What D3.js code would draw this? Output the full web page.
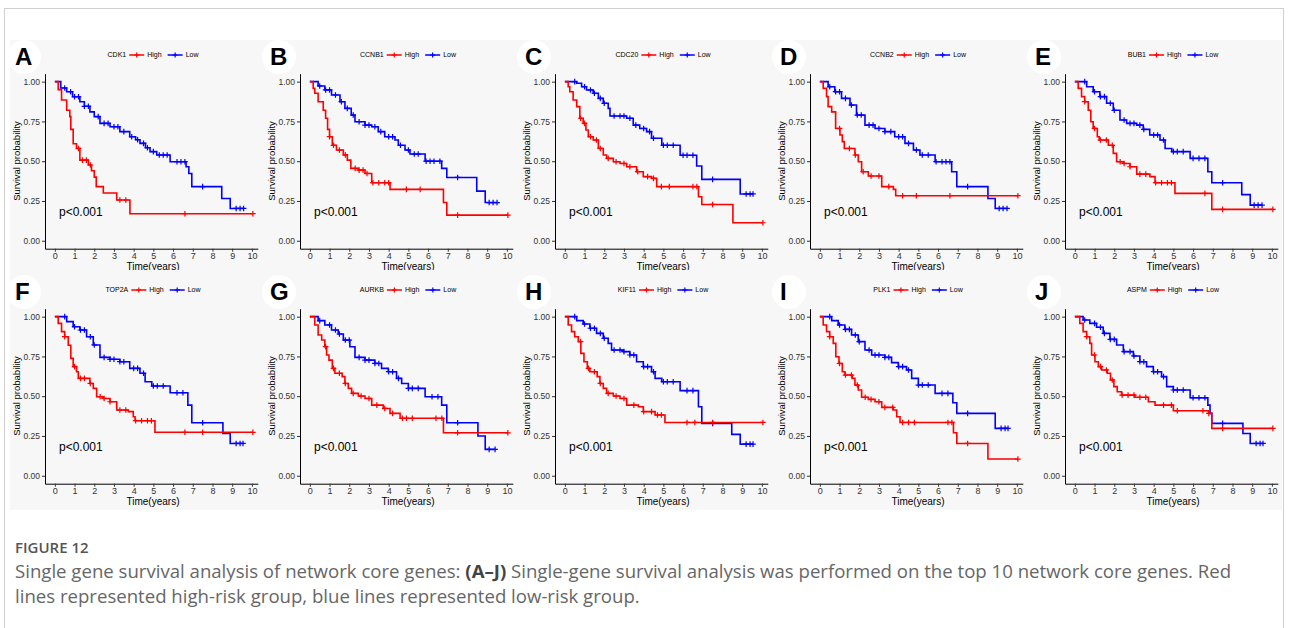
<!DOCTYPE html>
<html>
<head>
<meta charset="utf-8">
<script src="https://cdn.jsdelivr.net/npm/d3@7"></script>
<style>
  body { margin: 0; background: #fff; }
  svg { display: block; }
  .plot text { font-family: "Liberation Sans", Arial, sans-serif; }
  .caption text { font-family: "Open Sans", sans-serif; }
</style>
</head>
<body>
<svg id="fig" width="1290" height="628"></svg>
<script>
// Kaplan-Meier step data: [time (years), survival]
const genes = ["CDK1", "CCNB1", "CDC20", "CCNB2", "BUB1", "TOP2A", "AURKB", "KIF11", "PLK1", "ASPM"];
const letters = ["A", "B", "C", "D", "E", "F", "G", "H", "I", "J"];
const xTicks = [0, 1, 2, 3, 4, 5, 6, 7, 8, 9, 10];
const yTicks = [0, 0.25, 0.5, 0.75, 1];
const pLabel = "p<0.001";

const CDK1_high = [[0,1],[0.17,0.95],[0.34,0.885],[0.6,0.82],[0.76,0.78],[0.81,0.70],[0.93,0.61],[1.1,0.58],[1.27,0.507],[1.7,0.476],[1.86,0.44],[2.0,0.40],[2.1,0.34],[2.46,0.30],[3.14,0.256],[3.81,0.17]];
const CDK1_highCens = [1.2,1.4,1.6,1.8,3.3,3.6,6.6,10.05];
const CDK1_low = [[0,1],[0.3,0.96],[0.6,0.937],[0.9,0.905],[1.27,0.874],[1.5,0.845],[1.78,0.81],[2.0,0.78],[2.29,0.738],[2.8,0.717],[3.3,0.686],[3.8,0.654],[4.1,0.635],[4.32,0.612],[4.6,0.585],[4.83,0.56],[5.17,0.539],[5.85,0.497],[6.66,0.465],[6.8,0.423],[6.95,0.34],[8.47,0.266],[8.9,0.203]];
const CDK1_lowCens = [0.5,0.8,1.0,1.2,1.5,1.7,2.2,2.5,2.7,3.0,3.2,3.5,3.9,4.2,4.5,4.7,5.0,5.3,5.5,5.7,6.2,6.4,6.6,7.5,9.2,9.4,9.58];

const CCNB1_high = [[0,1],[0.17,0.958],[0.25,0.927],[0.42,0.874],[0.68,0.82],[0.8,0.77],[0.9,0.70],[1.0,0.654],[1.14,0.60],[1.35,0.57],[1.7,0.54],[1.9,0.507],[2.08,0.455],[2.46,0.444],[2.8,0.423],[3.14,0.365],[4.07,0.323],[6.78,0.24],[6.95,0.161]];
const CCNB1_highCens = [1.0,1.2,1.5,1.8,2.3,2.5,2.7,2.9,3.2,3.5,3.8,4.0,4.9,5.6,7.5,10.05];
const CCNB1_low = [[0,1],[0.42,0.973],[0.76,0.948],[1.1,0.916],[1.53,0.874],[1.78,0.832],[2.1,0.79],[2.29,0.748],[2.8,0.727],[3.14,0.717],[3.47,0.686],[3.8,0.654],[4.32,0.633],[4.49,0.60],[4.83,0.57],[5.08,0.545],[5.85,0.50],[6.69,0.455],[6.95,0.398],[8.47,0.312],[8.9,0.24]];
const CCNB1_lowCens = [0.5,0.8,1.0,1.3,1.6,1.9,2.2,2.5,2.8,3.0,3.3,3.6,4.0,4.2,4.6,5.0,5.3,5.5,5.9,6.1,6.3,6.6,7.5,9.1,9.3,9.5];

const CDC20_high = [[0,1],[0.17,0.968],[0.25,0.937],[0.42,0.885],[0.6,0.843],[0.76,0.77],[0.93,0.738],[1.07,0.696],[1.19,0.654],[1.44,0.633],[1.7,0.58],[1.95,0.539],[2.12,0.518],[2.46,0.497],[2.8,0.486],[3.14,0.465],[3.64,0.434],[3.98,0.403],[4.4,0.392],[4.66,0.34],[6.78,0.277],[6.95,0.228],[8.53,0.113]];
const CDC20_highCens = [0.8,1.0,1.3,1.6,1.8,2.2,2.6,3.0,3.3,3.7,4.2,4.5,4.9,5.3,6.5,6.7,7.5,10.05];
const CDC20_low = [[0,1],[0.6,0.99],[0.85,0.968],[1.1,0.948],[1.44,0.927],[1.7,0.895],[1.95,0.864],[2.2,0.832],[2.29,0.784],[3.14,0.77],[3.47,0.727],[3.8,0.706],[4.15,0.686],[4.4,0.644],[4.92,0.60],[5.85,0.537],[6.69,0.47],[6.95,0.386],[8.9,0.294]];
const CDC20_lowCens = [0.5,1.0,1.3,1.5,1.8,2.0,2.5,2.8,3.0,3.3,3.6,4.0,4.3,4.5,5.0,5.2,5.5,6.0,6.2,6.5,7.5,9.2,9.4,9.55];

const CCNB2_high = [[0,1],[0.17,0.958],[0.34,0.906],[0.42,0.843],[0.6,0.81],[0.8,0.706],[1.02,0.665],[1.14,0.623],[1.24,0.58],[1.78,0.539],[1.95,0.497],[2.12,0.434],[2.46,0.407],[3.14,0.34],[3.73,0.323],[3.85,0.283]];
const CCNB2_highCens = [1.0,1.5,1.8,2.2,2.6,3.0,3.5,4.2,4.9,6.6,10.05];
const CCNB2_low = [[0,1],[0.42,0.968],[0.76,0.937],[1.1,0.895],[1.53,0.853],[1.86,0.79],[2.29,0.727],[2.8,0.706],[3.3,0.686],[3.8,0.654],[4.32,0.612],[4.75,0.57],[5.08,0.539],[5.85,0.497],[6.69,0.434],[6.95,0.34],[8.53,0.266],[8.9,0.203]];
const CCNB2_lowCens = [0.5,0.8,1.0,1.3,1.6,1.9,2.1,2.5,2.7,3.0,3.3,3.6,4.0,4.2,4.5,4.9,5.2,5.5,5.9,6.2,6.4,6.6,7.5,9.1,9.3,9.5];

const BUB1_high = [[0,1],[0.17,0.958],[0.34,0.906],[0.5,0.874],[0.68,0.82],[0.81,0.748],[0.93,0.706],[1.14,0.654],[1.24,0.633],[1.7,0.60],[1.95,0.549],[2.12,0.497],[2.46,0.486],[2.8,0.465],[3.14,0.419],[3.81,0.403],[4.07,0.365],[5.08,0.298],[6.95,0.197]];
const BUB1_highCens = [0.5,1.0,1.3,1.6,1.9,2.3,2.5,2.8,3.3,3.6,4.1,4.4,4.7,4.9,6.6,7.5,10.05];
const BUB1_low = [[0,1],[0.6,0.968],[0.93,0.937],[1.27,0.906],[1.61,0.864],[1.95,0.82],[2.29,0.759],[2.63,0.738],[3.14,0.727],[3.47,0.70],[3.8,0.665],[4.32,0.633],[4.58,0.58],[4.92,0.56],[5.85,0.518],[6.75,0.434],[6.95,0.365],[8.47,0.29],[8.9,0.224]];
const BUB1_lowCens = [0.5,1.0,1.3,1.5,1.8,2.0,2.5,2.8,3.0,3.3,3.5,4.0,4.2,4.5,5.0,5.2,5.5,6.0,6.3,6.6,7.5,9.1,9.3,9.5];

const TOP2A_high = [[0,1],[0.17,0.958],[0.34,0.906],[0.5,0.874],[0.68,0.82],[0.81,0.738],[0.93,0.686],[1.1,0.654],[1.19,0.612],[1.78,0.58],[1.95,0.549],[2.12,0.497],[2.46,0.486],[2.8,0.465],[3.14,0.413],[3.73,0.403],[3.98,0.371],[4.07,0.346],[5.08,0.273]];
const TOP2A_highCens = [0.5,1.0,1.3,1.5,1.8,2.3,2.5,2.8,3.3,3.6,4.1,4.4,4.7,4.9,6.6,7.5,10.05];
const TOP2A_low = [[0,1],[0.6,0.969],[0.93,0.937],[1.27,0.916],[1.61,0.874],[1.95,0.822],[2.29,0.744],[2.8,0.732],[3.3,0.717],[3.8,0.675],[4.32,0.644],[4.58,0.591],[4.92,0.564],[5.85,0.522],[6.75,0.444],[6.95,0.333],[8.53,0.266],[8.9,0.203]];
const TOP2A_lowCens = [0.5,1.0,1.3,1.5,1.8,2.0,2.5,2.8,3.0,3.3,3.5,4.0,4.2,4.5,5.0,5.2,5.5,6.2,6.5,7.5,9.2,9.4,9.55];

const AURKB_high = [[0,1],[0.25,0.948],[0.42,0.885],[0.6,0.853],[0.76,0.811],[0.85,0.759],[0.97,0.727],[1.14,0.675],[1.27,0.644],[1.64,0.623],[1.78,0.58],[1.95,0.549],[2.12,0.518],[2.46,0.501],[2.8,0.486],[3.14,0.444],[3.73,0.423],[4.07,0.392],[4.58,0.361],[6.78,0.27]];
const AURKB_highCens = [0.8,1.2,1.5,1.8,2.2,2.6,3.0,3.4,3.8,4.2,4.7,4.9,5.2,6.4,6.7,7.5,10.05];
const AURKB_low = [[0,1],[0.42,0.975],[0.76,0.948],[1.1,0.916],[1.44,0.891],[1.7,0.853],[2.03,0.811],[2.29,0.744],[2.8,0.727],[3.3,0.706],[3.64,0.675],[3.98,0.654],[4.4,0.612],[4.66,0.58],[5.0,0.549],[5.85,0.497],[6.69,0.444],[6.95,0.333],[8.53,0.25],[8.9,0.166]];
const AURKB_lowCens = [0.5,1.0,1.3,1.5,1.8,2.0,2.5,2.8,3.0,3.3,3.5,4.0,4.2,4.5,5.0,5.2,5.5,6.2,6.5,7.5,9.1,9.4];

const KIF11_high = [[0,1],[0.17,0.948],[0.34,0.906],[0.5,0.874],[0.68,0.843],[0.81,0.769],[0.97,0.717],[1.14,0.675],[1.27,0.654],[1.64,0.623],[1.78,0.58],[1.95,0.549],[2.12,0.518],[2.46,0.501],[2.8,0.486],[3.14,0.444],[3.73,0.434],[3.98,0.403],[4.58,0.382],[5.08,0.335]];
const KIF11_highCens = [0.8,1.2,1.5,1.8,2.2,2.6,3.0,3.5,4.0,4.4,4.7,4.9,6.2,6.6,7.5,10.05];
const KIF11_low = [[0,1],[0.6,0.975],[0.93,0.954],[1.27,0.927],[1.61,0.895],[1.95,0.864],[2.2,0.832],[2.37,0.79],[2.97,0.78],[3.3,0.759],[3.64,0.717],[3.98,0.686],[4.4,0.654],[4.58,0.612],[4.92,0.591],[5.85,0.535],[6.78,0.434],[6.95,0.329],[8.47,0.26],[8.9,0.199]];
const KIF11_lowCens = [0.5,1.0,1.3,1.5,1.8,2.0,2.5,2.8,3.0,3.3,3.5,4.0,4.2,4.5,5.0,5.2,5.5,6.2,6.5,7.5,9.2,9.4,9.55];

const PLK1_high = [[0,1],[0.17,0.948],[0.34,0.906],[0.5,0.874],[0.68,0.832],[0.81,0.748],[0.97,0.706],[1.14,0.654],[1.27,0.633],[1.64,0.612],[1.78,0.57],[1.95,0.539],[2.12,0.493],[2.46,0.48],[2.8,0.465],[3.14,0.43],[3.73,0.413],[3.9,0.371],[4.07,0.335],[6.78,0.27],[6.95,0.203],[8.53,0.105]];
const PLK1_highCens = [0.5,1.0,1.3,1.6,1.9,2.3,2.6,3.0,3.3,3.7,4.2,4.5,4.8,6.5,6.7,7.5,10.05];
const PLK1_low = [[0,1],[0.6,0.975],[0.93,0.948],[1.27,0.92],[1.61,0.885],[1.95,0.843],[2.29,0.79],[2.63,0.759],[3.3,0.744],[3.64,0.711],[3.98,0.686],[4.4,0.665],[4.66,0.612],[5.0,0.57],[5.85,0.518],[6.75,0.459],[6.95,0.392],[8.9,0.298]];
const PLK1_lowCens = [0.5,1.0,1.3,1.5,1.8,2.0,2.5,2.8,3.0,3.3,3.5,4.0,4.2,4.5,5.0,5.2,5.5,6.2,6.5,7.5,9.2,9.4,9.55];

const ASPM_high = [[0,1],[0.25,0.958],[0.42,0.906],[0.6,0.874],[0.76,0.832],[0.85,0.759],[1.02,0.717],[1.19,0.686],[1.36,0.665],[1.64,0.644],[1.81,0.602],[1.98,0.56],[2.15,0.528],[2.37,0.507],[3.05,0.493],[3.73,0.465],[4.07,0.444],[5.0,0.409],[6.78,0.392],[6.95,0.298]];
const ASPM_highCens = [0.6,1.0,1.3,1.6,1.9,2.4,2.7,3.0,3.3,3.6,4.5,4.9,5.2,6.5,6.8,7.5,10.05];
const ASPM_low = [[0,1],[0.42,0.979],[0.76,0.958],[1.1,0.933],[1.44,0.895],[1.78,0.857],[2.12,0.822],[2.46,0.78],[2.97,0.753],[3.3,0.717],[3.64,0.686],[3.98,0.654],[4.4,0.623],[4.66,0.56],[5.0,0.539],[5.85,0.49],[6.75,0.444],[6.86,0.392],[6.95,0.329],[8.53,0.266],[8.9,0.203]];
const ASPM_lowCens = [0.5,1.0,1.3,1.5,1.8,2.0,2.5,2.8,3.0,3.3,3.5,4.0,4.2,4.5,5.0,5.2,5.5,6.0,6.3,6.6,7.5,9.2,9.4,9.55];

const highSets = [CDK1_high, CCNB1_high, CDC20_high, CCNB2_high, BUB1_high, TOP2A_high, AURKB_high, KIF11_high, PLK1_high, ASPM_high];
const highCens = [CDK1_highCens, CCNB1_highCens, CDC20_highCens, CCNB2_highCens, BUB1_highCens, TOP2A_highCens, AURKB_highCens, KIF11_highCens, PLK1_highCens, ASPM_highCens];
const lowSets = [CDK1_low, CCNB1_low, CDC20_low, CCNB2_low, BUB1_low, TOP2A_low, AURKB_low, KIF11_low, PLK1_low, ASPM_low];
const lowCens = [CDK1_lowCens, CCNB1_lowCens, CDC20_lowCens, CCNB2_lowCens, BUB1_lowCens, TOP2A_lowCens, AURKB_lowCens, KIF11_lowCens, PLK1_lowCens, ASPM_lowCens];

const RED = "#ff0000", BLUE = "#0000ff";

const svg = d3.select("#fig");

// outer frame and figure background
svg.append("rect").attr("x", 4.5).attr("y", 8.5).attr("width", 1279).attr("height", 700)
  .attr("fill", "#fff").attr("stroke", "#d0d0d0");
svg.append("rect").attr("x", 10).attr("y", 40).attr("width", 1272).attr("height", 470)
  .attr("fill", "#f7f7f7");

// row 1 panels are cut at the top of row 2
svg.append("clipPath").attr("id", "clipTop")
  .append("rect").attr("x", 0).attr("y", 0).attr("width", 1290).attr("height", 270);

// panel scales (local coordinates)
const x = d3.scaleLinear().domain([-0.5, 10.3]).range([45, 257.8]);
const y = d3.scaleLinear().domain([-0.05, 1.05]).range([248.7, 73.7]);

function survAt(steps, t) {
  let s = steps[0][1];
  steps.forEach(p => { if (p[0] <= t) s = p[1]; });
  return s;
}

const line = d3.line().x(d => x(d[0])).y(d => y(d[1])).curve(d3.curveStepAfter);

function plus(g, cx, cy, color, size) {
  g.append("path")
    .attr("d", `M${cx - size},${cy}H${cx + size}M${cx},${cy - size}V${cy + size}`)
    .attr("stroke", color).attr("stroke-width", 1.2).attr("fill", "none");
}

const plots = svg.append("g").attr("class", "plot");

genes.forEach((gene, i) => {
  const col = i % 5, row = Math.floor(i / 5);
  const outer = plots.append("g");
  if (row === 0) outer.attr("clip-path", "url(#clipTop)");
  const g = outer.append("g").attr("transform", `translate(${col * 255},${row * 235})`);

  // letter badge
  g.append("circle").attr("cx", 24).attr("cy", 57).attr("r", 17).attr("fill", "#fff");
  g.append("text").attr("x", 15).attr("y", 65).attr("font-size", 24).attr("font-weight", "bold")
    .attr("fill", "#000").text(letters[i]);

  // axes
  const yAxis = g.append("g").attr("transform", "translate(45,0)")
    .call(d3.axisLeft(y).tickValues(yTicks).tickFormat(d3.format(".2f")).tickSize(3).tickSizeOuter(0));
  const xAxis = g.append("g").attr("transform", "translate(0,248.7)")
    .call(d3.axisBottom(x).tickValues(xTicks).tickFormat(d3.format("d")).tickSize(3).tickSizeOuter(0));
  [yAxis, xAxis].forEach(a => {
    a.attr("font-family", null);
    a.select(".domain").attr("stroke", "#000").attr("stroke-width", 1);
    a.selectAll(".tick line").attr("stroke", "#333");
    a.selectAll(".tick text").attr("fill", "#333").attr("font-size", 8.5);
  });
  yAxis.selectAll(".tick text").attr("x", -5);
  xAxis.selectAll(".tick text").attr("y", 3.5).attr("font-size", 9);

  g.append("text").attr("x", 153).attr("y", 269.5).attr("text-anchor", "middle")
    .attr("font-size", 10).attr("fill", "#000").text("Time(years)");
  g.append("text").attr("transform", "translate(20,161) rotate(-90)").attr("text-anchor", "middle")
    .attr("font-size", 9.5).attr("fill", "#000").text("Survival probability");

  g.append("text").attr("x", 59).attr("y", 216).attr("font-size", 12).attr("fill", "#000").text(pLabel);

  // curves: low first, high on top
  [[lowSets[i], lowCens[i], BLUE], [highSets[i], highCens[i], RED]].forEach(([steps, cens, color]) => {
    const last = steps[steps.length - 1];
    const endT = Math.max(d3.max(cens), last[0]);
    const pts = steps.concat([[endT, last[1]]]);
    g.append("path").attr("d", line(pts)).attr("fill", "none")
      .attr("stroke", color).attr("stroke-width", 1.6);
    cens.forEach(t => plus(g, x(t), y(survAt(steps, t)), color, 2.8));
  });

  // legend
  const leg = g.append("g").attr("transform", "translate(0,55)");
  const fs = 7;
  const t1 = leg.append("text").attr("font-size", fs).attr("fill", "#000").attr("dy", "0.35em").text(gene);
  const w1 = t1.node().getComputedTextLength();
  const t2 = leg.append("text").attr("font-size", fs).attr("fill", "#000").attr("dy", "0.35em").text("High");
  const w2 = t2.node().getComputedTextLength();
  const t3 = leg.append("text").attr("font-size", fs).attr("fill", "#000").attr("dy", "0.35em").text("Low");
  const w3 = t3.node().getComputedTextLength();
  const key = 15, gap = 3, sep = 6;
  const total = w1 + gap + key + gap + w2 + sep + key + gap + w3;
  let cx = 153 - total / 2;
  t1.attr("x", cx); cx += w1 + gap;
  leg.append("line").attr("x1", cx).attr("x2", cx + key).attr("stroke", RED).attr("stroke-width", 1.5);
  plus(leg, cx + key / 2, 0, RED, 2.6);
  cx += key + gap;
  t2.attr("x", cx); cx += w2 + sep;
  leg.append("line").attr("x1", cx).attr("x2", cx + key).attr("stroke", BLUE).attr("stroke-width", 1.5);
  plus(leg, cx + key / 2, 0, BLUE, 2.6);
  cx += key + gap;
  t3.attr("x", cx);
});

// caption
const cap = svg.append("g").attr("class", "caption");
cap.append("text").attr("x", 15).attr("y", 553).attr("font-size", 15).attr("fill", "#555")
  .attr("font-weight", 600).text("FIGURE 12");
const l1 = cap.append("text").attr("x", 15).attr("y", 578).attr("font-size", 16).attr("fill", "#666");
l1.append("tspan").text("Single gene survival analysis of network core genes: ");
l1.append("tspan").attr("font-weight", "bold").attr("fill", "#444").text("(A\u2013J)");
l1.append("tspan").text(" Single-gene survival analysis was performed on the top 10 network core genes. Red");
const l2 = cap.append("text").attr("x", 15).attr("y", 603).attr("font-size", 16).attr("fill", "#666")
  .text("lines represented high-risk group, blue lines represented low-risk group.");
// fit the first caption line to the width it has in the figure
const capFs = 16 * 1217 / l1.node().getComputedTextLength();
l1.attr("font-size", capFs);
l2.attr("font-size", capFs);
</script>
</body>
</html>
